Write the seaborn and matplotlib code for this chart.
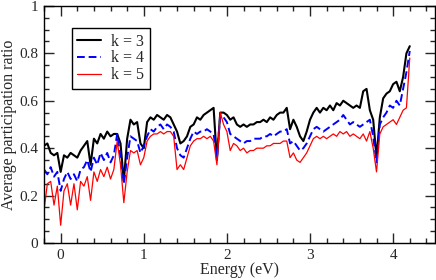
import numpy as np
import pandas as pd
import matplotlib
matplotlib.use('Agg')
import matplotlib.pyplot as plt
import seaborn as sns
from matplotlib.ticker import MultipleLocator

# Energy grid (eV) and average participation ratio for each k
energy = [round(-0.2 + 0.04 * i, 2) for i in range(111)]

k3 = [0.41, 0.42, 0.38, 0.37, 0.38, 0.30, 0.37, 0.36, 0.38, 0.37,
      0.36, 0.39, 0.41, 0.43, 0.33, 0.44, 0.42, 0.46, 0.44, 0.47,
      0.45, 0.46, 0.46, 0.42, 0.26, 0.44, 0.52, 0.50, 0.51, 0.42,
      0.40, 0.51, 0.53, 0.52, 0.54, 0.53, 0.52, 0.54, 0.53, 0.50,
      0.47, 0.42, 0.43, 0.45, 0.49, 0.50, 0.53, 0.52, 0.54, 0.55,
      0.56, 0.57, 0.35, 0.55, 0.55, 0.54, 0.52, 0.53, 0.50, 0.49,
      0.50, 0.49, 0.50, 0.50, 0.51, 0.51, 0.52, 0.51, 0.53, 0.52,
      0.54, 0.55, 0.55, 0.57, 0.48, 0.52, 0.49, 0.45, 0.43, 0.47,
      0.52, 0.55, 0.57, 0.55, 0.57, 0.56, 0.58, 0.56, 0.59, 0.58,
      0.60, 0.59, 0.58, 0.57, 0.58, 0.57, 0.64, 0.65, 0.56, 0.52,
      0.36, 0.53, 0.61, 0.63, 0.64, 0.67, 0.68, 0.64, 0.70, 0.80,
      0.83]

k4 = [0.31, 0.29, 0.32, 0.28, 0.30, 0.22, 0.27, 0.30, 0.27, 0.29,
      0.26, 0.31, 0.32, 0.35, 0.30, 0.36, 0.33, 0.38, 0.35, 0.38,
      0.34, 0.37, 0.46, 0.36, 0.25, 0.36, 0.45, 0.44, 0.43, 0.38,
      0.41, 0.45, 0.48, 0.47, 0.49, 0.50, 0.48, 0.50, 0.49, 0.47,
      0.40, 0.37, 0.36, 0.40, 0.44, 0.47, 0.46, 0.47, 0.47, 0.48,
      0.47, 0.46, 0.36, 0.54, 0.53, 0.51, 0.46, 0.45, 0.44, 0.43,
      0.42, 0.43, 0.43, 0.44, 0.44, 0.44, 0.45, 0.45, 0.46, 0.45,
      0.46, 0.47, 0.47, 0.48, 0.42, 0.43, 0.41, 0.39, 0.40, 0.42,
      0.45, 0.48, 0.49, 0.48, 0.47, 0.48, 0.49, 0.50, 0.51, 0.52,
      0.54, 0.52, 0.50, 0.51, 0.50, 0.49, 0.50, 0.51, 0.52, 0.45,
      0.34, 0.50, 0.53, 0.55, 0.58, 0.57, 0.60, 0.58, 0.65, 0.72,
      0.81]

k5 = [0.14, 0.25, 0.26, 0.16, 0.24, 0.075, 0.22, 0.25, 0.16, 0.25,
      0.14, 0.26, 0.24, 0.28, 0.18, 0.30, 0.26, 0.31, 0.28, 0.32,
      0.27, 0.31, 0.43, 0.33, 0.17, 0.30, 0.39, 0.38, 0.39, 0.33,
      0.36, 0.43, 0.45, 0.46, 0.46, 0.47, 0.46, 0.47, 0.47, 0.45,
      0.31, 0.33, 0.31, 0.36, 0.41, 0.43, 0.44, 0.44, 0.45, 0.44,
      0.45, 0.43, 0.33, 0.55, 0.50, 0.47, 0.39, 0.42, 0.41, 0.39,
      0.40, 0.38, 0.39, 0.39, 0.40, 0.40, 0.40, 0.41, 0.41, 0.42,
      0.42, 0.42, 0.43, 0.43, 0.36, 0.38, 0.35, 0.34, 0.36, 0.38,
      0.41, 0.44, 0.45, 0.44, 0.45, 0.44, 0.45, 0.46, 0.45, 0.47,
      0.46, 0.47, 0.45, 0.46, 0.45, 0.44, 0.46, 0.43, 0.47, 0.40,
      0.30, 0.46, 0.49, 0.50, 0.51, 0.52, 0.50, 0.53, 0.56, 0.57,
      0.78]

labels = ['k = 3', 'k = 4', 'k = 5']
colors = ['black', 'blue', 'red']

df = pd.DataFrame({'energy': energy, 'k = 3': k3, 'k = 4': k4, 'k = 5': k5})

sns.set_style('ticks')
plt.rcParams['font.family'] = ['Liberation Serif', 'DejaVu Serif']

fig = plt.figure(figsize=(4.36, 2.80), dpi=100)
ax = fig.add_axes([0.101, 0.132, 0.896, 0.847])

styles = {'k = 3': dict(lw=1.5, ls='-'),
          'k = 4': dict(lw=1.4, ls=(0, (4, 2))),
          'k = 5': dict(lw=0.9, ls='-')}
for lab, col in zip(labels, colors):
    sns.lineplot(data=df, x='energy', y=lab, color=col, label=lab, ax=ax,
                 linestyle=styles[lab]['ls'], linewidth=styles[lab]['lw'])

ax.set_xlim(-0.2, 4.5)
ax.set_ylim(0, 1)
ax.xaxis.set_major_locator(MultipleLocator(1))
ax.xaxis.set_minor_locator(MultipleLocator(0.2))
ax.yaxis.set_minor_locator(MultipleLocator(0.05))
ax.set_yticks([0, 0.2, 0.4, 0.6, 0.8, 1.0])
ax.set_yticklabels(['0', '0.2', '0.4', '0.6', '0.8', '1'])
ax.tick_params(which='both', direction='in', top=True, right=True,
               labelsize=11, width=1, pad=4)
ax.tick_params(which='major', length=7)
ax.tick_params(which='minor', length=3.5)
for s in ax.spines.values():
    s.set_linewidth(1)
    s.set_color('black')

ax.set_xlabel('Energy (eV)', fontsize=11.5, labelpad=0)
ax.set_ylabel('Average participation ratio', fontsize=11.5, labelpad=2)

leg = ax.legend(loc='upper left', bbox_to_anchor=(0.05, 0.94), fontsize=11.5,
                frameon=True, fancybox=False, framealpha=1, edgecolor='black',
                handlelength=1.5, borderpad=0.35, labelspacing=0.05,
                handletextpad=0.65)
leg.get_frame().set_linewidth(1)

fig.savefig('out.png', dpi=100)
plt.close()
